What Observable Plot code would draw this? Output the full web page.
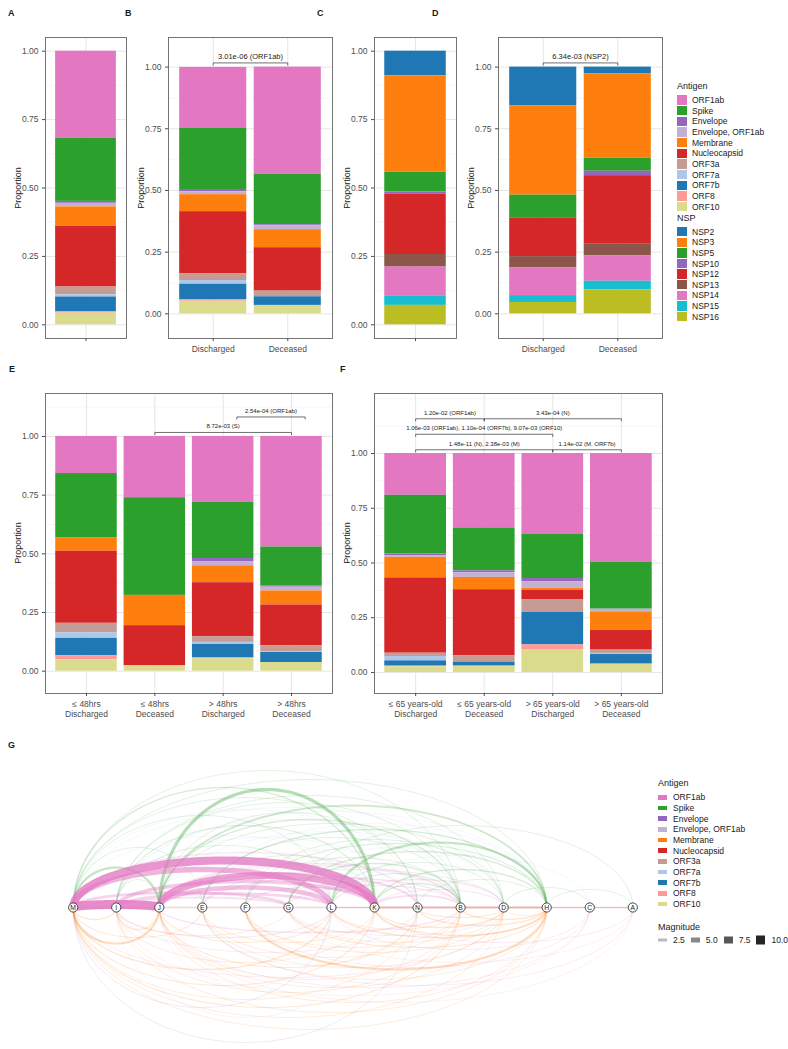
<!DOCTYPE html>
<html>
<head>
<meta charset="utf-8">
<script src="https://cdn.jsdelivr.net/npm/d3@7"></script>
<script src="https://cdn.jsdelivr.net/npm/@observablehq/plot@0.6"></script>
<style>
  html, body { margin: 0; padding: 0; background: #fff; }
  #fig { position: relative; width: 788px; height: 1049px; overflow: hidden; font-family: "Liberation Sans", Arial, sans-serif; color: #1a1a1a; }
  .abs { position: absolute; }
  .tag { position: absolute; font-weight: bold; font-size: 9px; line-height: 1; }
  .ytitle { position: absolute; font-size: 9px; line-height: 1; white-space: nowrap; transform: translate(-50%, -50%) rotate(-90deg); }
  .lg-title { position: absolute; font-size: 9px; line-height: 1; transform: translateY(-50%); white-space: nowrap; }
  .lg-text { position: absolute; font-size: 8.5px; line-height: 1; transform: translateY(-50%); white-space: nowrap; }
  .lg-sw { position: absolute; }
  .mag { position: absolute; display: flex; align-items: center; transform: translateY(-50%); font-size: 8.5px; line-height: 1; }
  .mag span.t { margin-left: 6px; margin-right: 6px; }
</style>
</head>
<body>
<div id="fig"></div>
<script>
// ---------------- categories ----------------
const antigenKeys = ["ORF1ab","Spike","Envelope","Envelope, ORF1ab","Membrane","Nucleocapsid","ORF3a","ORF7a","ORF7b","ORF8","ORF10"];
const antigenColors = ["#e377c2","#2ca02c","#9467bd","#c5b0d5","#ff7f0e","#d62728","#c49c94","#aec7e8","#1f77b4","#ff9896","#dbdb8d"];
const nspKeys = ["NSP2","NSP3","NSP5","NSP10","NSP12","NSP13","NSP14","NSP15","NSP16"];
const nspColors = ["#1f77b4","#ff7f0e","#2ca02c","#9467bd","#d62728","#8c564b","#e377c2","#17becf","#bcbd22"];

const singleGroup = [""];
const outcomeGroups = ["Discharged","Deceased"];
const timeGroups = ["≤ 48hrs\nDischarged","≤ 48hrs\nDeceased","> 48hrs\nDischarged","> 48hrs\nDeceased"];
const ageGroups = ["≤ 65 years-old\nDischarged","≤ 65 years-old\nDeceased","> 65 years-old\nDischarged","> 65 years-old\nDeceased"];
const yTicks = [0, 0.25, 0.5, 0.75, 1];
const minorTicks = [0.125, 0.375, 0.625, 0.875, 1.125, 1.25];

// ---------------- proportions (antigen order) ----------------
const panelA = [0.318,0.231,0.007,0.013,0.071,0.222,0.028,0.0085,0.054,0.005,0.0425];
const bDischarged = [0.246,0.249,0.009,0.012,0.069,0.251,0.028,0.015,0.062,0.007,0.051];
const bDeceased = [0.435,0.204,0.004,0.016,0.073,0.176,0.023,0,0.035,0,0.034];
// NSP order
const panelC = [0.090,0.352,0.072,0.009,0.220,0.046,0.107,0.033,0.071];
const dDischarged = [0.157,0.362,0.092,0,0.157,0.046,0.112,0.028,0.046];
const dDeceased = [0.027,0.342,0.053,0.018,0.278,0.046,0.104,0.035,0.097];
// E
const eLe48Discharged = [0.158,0.273,0,0,0.058,0.307,0.040,0.024,0.074,0.017,0.049];
const eLe48Deceased = [0.261,0.416,0,0,0.129,0.170,0,0,0,0.003,0.021];
const eGt48Discharged = [0.281,0.239,0.013,0.018,0.072,0.230,0.024,0.009,0.057,0.004,0.053];
const eGt48Deceased = [0.471,0.165,0.006,0.016,0.060,0.173,0.026,0.003,0.043,0,0.037];
// F
const fLe65Discharged = [0.191,0.268,0.009,0.006,0.094,0.344,0.015,0.020,0.024,0.003,0.026];
const fLe65Deceased = [0.340,0.196,0.009,0.021,0.056,0.301,0.030,0,0.018,0,0.029];
const fGt65Discharged = [0.370,0.201,0.014,0.030,0.009,0.043,0.059,0,0.148,0.021,0.105];
const fGt65Deceased = [0.496,0.215,0,0.012,0.084,0.091,0.015,0.005,0.044,0,0.038];

// ---------------- significance brackets ----------------
const bracketsB = [{from: 1, to: 2, tier: 0, label: "3.01e-06 (ORF1ab)"}];
const bracketsD = [{from: 1, to: 2, tier: 0, label: "6.34e-03 (NSP2)"}];
const bracketsE = [
  {from: 2, to: 4, tier: 0, label: "8.72e-03 (S)"},
  {from: 3.2, to: 4.2, tier: 1, label: "2.54e-04 (ORF1ab)"}
];
const bracketsF = [
  {from: 1, to: 3, tier: 0, label: "1.48e-11 (N), 2.38e-03 (M)"},
  {from: 3, to: 4, tier: 0, label: "1.14e-02 (M, ORF7b)"},
  {from: 1, to: 3, tier: 1, label: "1.06e-03 (ORF1ab), 1.10e-04 (ORF7b), 9.07e-03 (ORF10)"},
  {from: 1, to: 2, tier: 2, label: "1.20e-02 (ORF1ab)"},
  {from: 2, to: 4, tier: 2, label: "3.43e-04 (N)"}
];

// ---------------- arc diagram (G) ----------------
const nodeOrder = ["M","I","J","E","F","G","L","K","N","B","D","H","C","A"];
// [from, to, antigen, magnitude, bow (+ above / - below)]
const arcsAbove = [
  ["M","J","Spike",2.5,40],["M","K","Spike",1.5,120],["M","B","Spike",1,137],["M","L","Spike",1,92],
  ["M","N","Spike",1,110],["M","H","Spike",1,128],["I","K","Spike",1.2,82],["I","L","Spike",1,62],
  ["I","B","Spike",1,105],["I","D","Spike",1,112],["J","K","Spike",3.5,118],["J","N","Spike",1,95],
  ["J","B","Spike",1.5,88],["J","H","Spike",2,102],["J","D","Spike",1,84],["E","H","Spike",1.5,78],
  ["E","B","Spike",1,70],["E","K","Spike",1,52],["F","H","Spike",1.2,64],["F","D","Spike",1,68],
  ["F","B","Spike",1,50],["G","H","Spike",1.5,56],["G","B","Spike",1.5,44],["G","A","Spike",1,82],
  ["L","H","Spike",2.5,65],["L","B","Spike",1.2,34],["L","D","Spike",1,45],["K","H","Spike",1.5,38],
  ["K","B","Spike",1.5,24],["N","H","Spike",1,28],["I","J","Spike",1,28],["M","E","Spike",1,60],
  ["H","A","Spike",1,18],["D","C","Spike",1,20],
  ["M","N","ORF7a",1,98],["M","K","ORF7a",1,72],["I","B","ORF7a",1,88],["I","N","ORF7a",1,70],
  ["J","D","ORF7a",1,76],["J","L","ORF7a",1,50],["E","H","ORF7a",1,84],["F","N","ORF7a",1,58],
  ["L","C","ORF7a",1,52],["I","H","ORF7a",1,96],["G","D","ORF7a",1,60],["M","D","ORF7a",1,100],
  ["J","B","Envelope",1,42],["E","D","Envelope",1,38],
  ["M","J","ORF1ab",10,3],["M","K","ORF1ab",9,47],["M","L","ORF1ab",6,38],["J","K","ORF1ab",8,32],
  ["J","L","ORF1ab",5,20],["I","K","ORF1ab",4,26],["M","G","ORF1ab",3,15],["I","L","ORF1ab",3,14],
  ["J","N","ORF1ab",2,34],["M","N","ORF1ab",1.5,55],["E","B","ORF1ab",1.5,30],["J","B","ORF1ab",1.5,44],
  ["L","D","ORF1ab",1.5,28],["K","D","ORF1ab",1.2,18],["G","B","ORF1ab",1.2,22],["K","B","ORF1ab",2,12],
  ["I","G","ORF1ab",2,10],["F","K","ORF1ab",1.5,20],["G","N","ORF1ab",1,26]
];
const arcsBelow = [
  ["M","J","Membrane",2.5,-36],["M","E","Membrane",1.2,-30],["M","L","Membrane",1.5,-62],["M","K","Membrane",1.2,-78],
  ["M","N","Membrane",1,-92],["M","B","Membrane",1.2,-100],["M","D","Membrane",1,-110],["M","H","Membrane",1,-122],
  ["I","J","Membrane",1.5,-22],["I","G","Membrane",1,-28],["I","K","Membrane",1,-55],["I","B","Membrane",1,-85],
  ["I","H","Membrane",1,-105],["J","L","Membrane",1.2,-35],["J","N","Membrane",1.2,-60],["J","B","Membrane",1,-72],
  ["J","D","Membrane",1,-80],["J","H","Membrane",1,-95],["E","K","Membrane",1,-35],["E","B","Membrane",1,-50],
  ["E","D","Membrane",1,-60],["E","H","Membrane",1,-72],["F","D","Membrane",1,-45],["F","H","Membrane",2.5,-62],
  ["F","B","Membrane",1,-40],["G","H","Membrane",1.2,-40],["G","N","Membrane",1,-25],["G","D","Membrane",1,-35],
  ["L","H","Membrane",1.5,-30],["L","B","Membrane",1,-22],["K","D","Membrane",1.5,-20],["K","H","Membrane",1.5,-28],
  ["N","H","Membrane",1.5,-18],["N","D","Membrane",1.2,-10],["B","H","Membrane",1.5,-12],["D","H","Membrane",1,-8],
  ["M","I","Membrane",1.5,-12],
  ["J","B","ORF1ab",1.5,-25],["I","N","ORF1ab",1,-45],["J","C","ORF1ab",1,-80],["E","A","ORF1ab",1,-78],
  ["L","C","ORF1ab",1,-42],["K","A","ORF1ab",1,-35],["M","D","ORF1ab",1,-70],["F","C","ORF1ab",1,-60],
  ["G","D","ORF1ab",1,-28],["I","L","ORF1ab",1.2,-30],
  ["J","A","ORF8",1,-95],["I","C","ORF8",1,-88],["G","A","ORF8",1,-55],
  ["M","N","Envelope",1,-135],["M","L","Envelope",1,-100],["I","K","ORF7a",1,-110],["J","L","ORF7a",1,-80],
  ["E","N","ORF7a",1,-58]
];
const arcsAxis = [
  ["M","I","Nucleocapsid",1.5,0],["I","J","Nucleocapsid",1.5,0],["J","E","Nucleocapsid",1.5,0],["E","F","Nucleocapsid",1.5,0],
  ["F","G","Nucleocapsid",1.5,0],["G","L","Nucleocapsid",1.5,0],["L","K","Nucleocapsid",1.5,0],["K","N","Nucleocapsid",2,0],
  ["N","B","Nucleocapsid",2,0],["B","D","Nucleocapsid",2,0],["D","H","Nucleocapsid",2,0],["H","C","Nucleocapsid",1.5,0],
  ["C","A","Nucleocapsid",1.5,0],
  ["K","N","Nucleocapsid",1.5,0],["N","B","Nucleocapsid",1.5,0],["B","D","Nucleocapsid",1.5,0],["D","H","Nucleocapsid",1.5,0],
  ["H","C","Nucleocapsid",1.2,0],["C","A","Nucleocapsid",1.2,0],["L","K","Nucleocapsid",1.2,0]
];
const magnitudeBreaks = [2.5, 5.0, 7.5, 10.0];

// ---------------- helpers ----------------
const fig = document.getElementById("fig");
const FONT = '"Liberation Sans", Arial, sans-serif';
const plotStyle = {background: "transparent", overflow: "visible", maxWidth: "none", fontFamily: FONT};

function place(node, left, top) {
  const d = document.createElement("div");
  d.className = "abs"; d.style.left = left + "px"; d.style.top = top + "px";
  d.appendChild(node); fig.appendChild(d); return d;
}
function label(cls, text, left, top, extra = {}) {
  const d = document.createElement("div");
  d.className = cls; d.textContent = text;
  d.style.left = left + "px"; d.style.top = top + "px";
  Object.assign(d.style, extra); fig.appendChild(d); return d;
}

function barPanel(cfg) {
  const {frame: [x0, y0, x1, y1], yDomain, groups, series, keys, colors, brackets = [], bracketSize = 7, tickLabels = true} = cfg;
  const padL = 48, padR = 8, padT = 8, padB = 34;
  const width = x1 - x0 + padL + padR, height = y1 - y0 + padT + padB;
  const ppu = (y1 - y0) / (yDomain[1] - yDomain[0]);
  const level = d => 1.017 + d.tier * 15.5 / ppu;
  const drop = 2.5 / ppu;
  const n = groups.length;
  const centers = d3.range(1, n + 1);
  const rows = series.flatMap((vals, g) => vals.map((v, k) => ({group: g + 1, key: keys[k], value: v}))).filter(d => d.value > 0);
  const minor = minorTicks.filter(v => v < yDomain[1]);
  const chart = Plot.plot({
    width, height, marginLeft: padL, marginRight: padR, marginTop: padT, marginBottom: padB,
    style: plotStyle,
    x: {type: "linear", domain: [0.4, n + 0.6], axis: null},
    y: {domain: yDomain, axis: null},
    color: {domain: keys, range: colors},
    marks: [
      Plot.gridY(minor, {stroke: "#f1f1f1", strokeOpacity: 1, strokeWidth: 0.6}),
      Plot.gridY(yTicks, {stroke: "#e6e6e6", strokeOpacity: 1, strokeWidth: 1}),
      Plot.gridX(centers, {stroke: "#e6e6e6", strokeOpacity: 1, strokeWidth: 1}),
      Plot.rectY(rows, Plot.stackY({
        x1: d => d.group - 0.45, x2: d => d.group + 0.45, y: "value", fill: "key",
        order: keys.slice().reverse()
      })),
      Plot.frame({stroke: "#666", strokeWidth: 0.9}),
      Plot.axisY(yTicks, {tickFormat: d3.format(".2f"), tickSize: 3, tickPadding: 4, fontSize: 8.5, color: "#4d4d4d", label: null}),
      Plot.axisX(centers, {tickFormat: i => tickLabels ? groups[i - 1] : "", tickSize: 3, tickPadding: 3, fontSize: 8.5, lineHeight: 1.2, color: "#4d4d4d", label: null}),
      Plot.link(brackets, {x1: "from", x2: "to", y1: level, y2: level, stroke: "#333", strokeWidth: 0.7}),
      Plot.link(brackets, {x1: "from", x2: "from", y1: level, y2: d => level(d) - drop, stroke: "#333", strokeWidth: 0.7}),
      Plot.link(brackets, {x1: "to", x2: "to", y1: level, y2: d => level(d) - drop, stroke: "#333", strokeWidth: 0.7}),
      Plot.text(brackets, {x: d => (d.from + d.to) / 2, y: level, text: "label", dy: -6, fontSize: bracketSize, fill: "#1a1a1a"})
    ]
  });
  place(chart, x0 - padL, y0 - padT);
  label("ytitle", "Proportion", x0 - 27, (y0 + y1) / 2);
}

// ---------------- panels A-F ----------------
barPanel({frame: [45, 37, 126, 338], yDomain: [-0.05, 1.05], groups: singleGroup, series: [panelA], keys: antigenKeys, colors: antigenColors, tickLabels: false});
barPanel({frame: [168, 37, 332, 338], yDomain: [-0.10, 1.12], groups: outcomeGroups, series: [bDischarged, bDeceased], keys: antigenKeys, colors: antigenColors, brackets: bracketsB, bracketSize: 7.5});
barPanel({frame: [374, 37, 456, 338], yDomain: [-0.05, 1.05], groups: singleGroup, series: [panelC], keys: nspKeys, colors: nspColors, tickLabels: false});
barPanel({frame: [498, 37, 662, 338], yDomain: [-0.10, 1.12], groups: outcomeGroups, series: [dDischarged, dDeceased], keys: nspKeys, colors: nspColors, brackets: bracketsD, bracketSize: 7.5});
barPanel({frame: [45, 393, 332, 693], yDomain: [-0.095, 1.183], groups: timeGroups, series: [eLe48Discharged, eLe48Deceased, eGt48Discharged, eGt48Deceased], keys: antigenKeys, colors: antigenColors, brackets: bracketsE, bracketSize: 6});
barPanel({frame: [374, 393, 662, 693], yDomain: [-0.096, 1.274], groups: ageGroups, series: [fLe65Discharged, fLe65Deceased, fGt65Discharged, fGt65Deceased], keys: antigenKeys, colors: antigenColors, brackets: bracketsF, bracketSize: 6});

// panel tags
[["A", 8, 9], ["B", 125, 9], ["C", 317, 9], ["D", 432, 9], ["E", 9, 365], ["F", 340, 365], ["G", 8, 741]]
  .forEach(([t, x, y]) => label("tag", t, x, y));

// ---------------- legends ----------------
function legendBlock({title, keys, colors, left, titleY, firstY, step, swW, swH, textLeft}) {
  label("lg-title", title, left, titleY);
  keys.forEach((k, i) => {
    const cy = firstY + i * step;
    const sw = document.createElement("div");
    sw.className = "lg-sw";
    Object.assign(sw.style, {left: left + "px", top: (cy - swH / 2) + "px", width: swW + "px", height: swH + "px", background: colors[i]});
    fig.appendChild(sw);
    label("lg-text", k, textLeft, cy);
  });
}
legendBlock({title: "Antigen", keys: antigenKeys, colors: antigenColors, left: 677, titleY: 86, firstY: 100, step: 10.67, swW: 9.5, swH: 9.5, textLeft: 692});
legendBlock({title: "NSP", keys: nspKeys, colors: nspColors, left: 677, titleY: 218, firstY: 231.7, step: 10.6, swW: 9.5, swH: 9.5, textLeft: 692});

// ---------------- panel G ----------------
const allArcs = arcsAxis.concat(arcsAbove, arcsBelow)
  .map(([from, to, antigen, magnitude, bow]) => ({from, to, antigen, magnitude, bow}))
  .sort((a, b) => a.magnitude - b.magnitude);
const arcPoints = allArcs.flatMap((a, id) => {
  const i0 = nodeOrder.indexOf(a.from), i1 = nodeOrder.indexOf(a.to);
  return d3.range(61).map(j => {
    const t = Math.PI * j / 60;
    return {id, antigen: a.antigen, magnitude: a.magnitude, x: i0 + (i1 - i0) * (1 - Math.cos(t)) / 2, y: a.bow * Math.sin(t)};
  });
});
const gChart = Plot.plot({
  width: 650, height: 304, marginLeft: 72.7, marginRight: 17.7, marginTop: 0, marginBottom: 0,
  style: plotStyle,
  x: {domain: [0, 13], axis: null},
  y: {domain: [-142, 162], axis: null},
  color: {domain: antigenKeys, range: antigenColors},
  opacity: {domain: [0, 10], range: [0.08, 0.85]},
  marks: [
    Plot.line(arcPoints, {x: "x", y: "y", z: "id", stroke: "antigen", strokeOpacity: "magnitude", strokeWidth: d => d.magnitude * 0.9, strokeLinecap: "butt", curve: "linear"}),
    Plot.dot(nodeOrder, {x: (d, i) => i, y: () => 0, r: 4.6, fill: "white", stroke: "#333", strokeWidth: 0.9}),
    Plot.text(nodeOrder, {x: (d, i) => i, y: () => 0, text: d => d, fontSize: 6.8, fill: "#222"})
  ]
});
place(gChart, 0, 745);

legendBlock({title: "Antigen", keys: antigenKeys, colors: antigenColors, left: 658, titleY: 783, firstY: 797.3, step: 10.67, swW: 9, swH: 4.7, textLeft: 673});
label("lg-title", "Magnitude", 658, 926.7);
const opScale = gChart.scale("opacity");
const mag = document.createElement("div");
mag.className = "mag";
Object.assign(mag.style, {left: "658px", top: "940px"});
magnitudeBreaks.forEach(m => {
  const sw = document.createElement("span");
  const h = m * 0.9;
  Object.assign(sw.style, {display: "inline-block", width: "9px", height: h + "px", background: `rgba(0,0,0,${opScale.apply(m)})`});
  const t = document.createElement("span");
  t.className = "t"; t.textContent = d3.format(".1f")(m);
  mag.appendChild(sw); mag.appendChild(t);
});
fig.appendChild(mag);
</script>
</body>
</html>
